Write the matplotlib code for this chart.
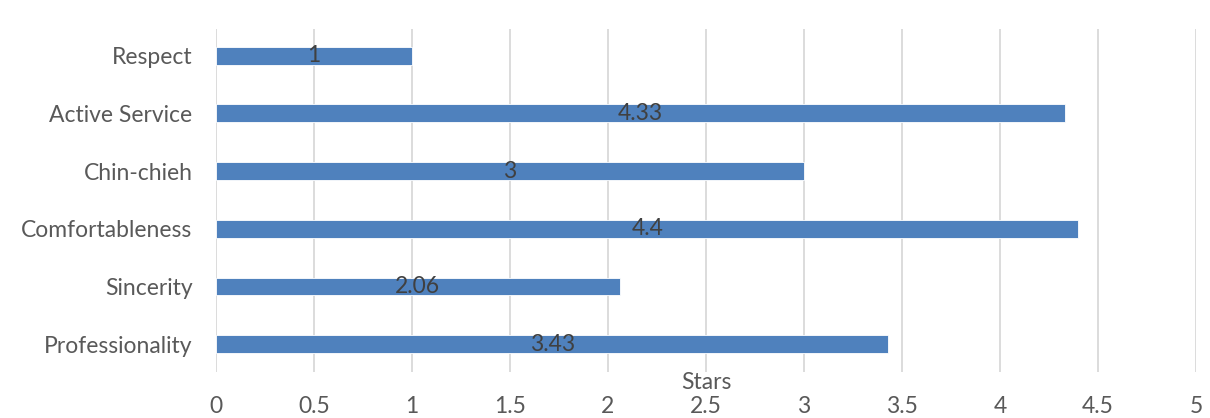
import matplotlib
matplotlib.use("Agg")
import matplotlib.pyplot as plt

categories = ["Professionality", "Sincerity", "Comfortableness", "Chin-chieh", "Active Service", "Respect"]
values = [3.43, 2.06, 4.4, 3.0, 4.33, 1.0]
value_labels = ["3.43", "2.06", "4.4", "3", "4.33", "1"]
xticks = [0, 0.5, 1, 1.5, 2, 2.5, 3, 3.5, 4, 4.5, 5]
xtick_labels = ["0", "0.5", "1", "1.5", "2", "2.5", "3", "3.5", "4", "4.5", "5"]
x_title = "Stars"

plt.rcParams['font.family'] = ['Lato', 'DejaVu Sans']

fig = plt.figure(figsize=(12.10, 4.18), dpi=100)
ax = fig.add_axes([216/1210, 1-372/418, (1196-216)/1210, (372-29)/418])

ypos = list(range(len(categories)))
ax.barh(ypos, values, height=0.31, color="#4F81BD", edgecolor="white", linewidth=0.6, zorder=3)
for y, v, lab in zip(ypos, values, value_labels):
    ax.text(v/2, y, lab, ha="center", va="center", fontsize=16.5, color="#404040", zorder=4)

ax.set_xlim(0, 5)
ax.set_ylim(-0.48, 5.46)
ax.set_xticks(xticks)
ax.set_xticklabels(xtick_labels)
ax.set_yticks(ypos)
ax.set_yticklabels(categories)
ax.tick_params(axis="both", length=0, labelsize=16.5, colors="#595959")
ax.tick_params(axis="x", pad=17)
ax.tick_params(axis="y", pad=17)
ax.grid(axis="x", color="#D9D9D9", linewidth=1.3, zorder=0)
for s in ax.spines.values():
    s.set_visible(False)

ax.text(0.5, 0.0, x_title, transform=ax.transAxes, ha="center", va="top", fontsize=16.5, color="#595959")

fig.savefig("out.png", dpi=100)
